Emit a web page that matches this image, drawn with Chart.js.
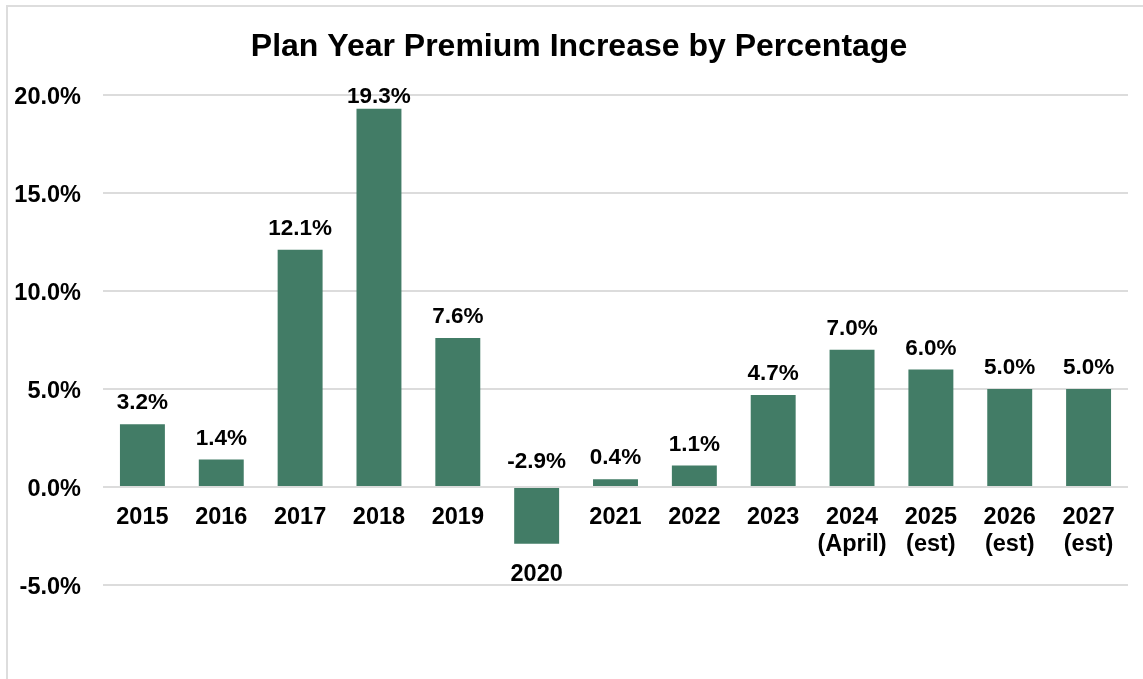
<!DOCTYPE html>
<html>
<head>
<meta charset="utf-8">
<script src="https://cdn.jsdelivr.net/npm/chart.js@4.4.1/dist/chart.umd.min.js"></script>
<style>
  html, body { margin: 0; padding: 0; background: #ffffff; overflow: hidden; }
  #wrap { position: relative; width: 1143px; height: 679px; }
  #frame { position: absolute; left: 6px; top: 5px; width: 1160px; height: 700px; border: 2px solid #dddddd; box-sizing: border-box; pointer-events: none; }
  canvas { position: absolute; left: 0; top: 0; }
</style>
</head>
<body>
<div id="wrap">
  <canvas id="c" width="1143" height="679"></canvas>
  <div id="frame"></div>
</div>
<script>
const chartTitle = 'Plan Year Premium Increase by Percentage';
const categories = [
  ['2015'], ['2016'], ['2017'], ['2018'], ['2019'], ['2020'], ['2021'], ['2022'], ['2023'],
  ['2024', '(April)'], ['2025', '(est)'], ['2026', '(est)'], ['2027', '(est)']
];
const premiumIncrease = [3.2, 1.4, 12.1, 19.3, 7.6, -2.9, 0.4, 1.1, 4.7, 7.0, 6.0, 5.0, 5.0];
const yTicks = [-5, 0, 5, 10, 15, 20];

const FONT = '"Liberation Sans", Arial, sans-serif';

const labelPlugin = {
  id: 'barLabels',
  afterDatasetsDraw(chart) {
    const ctx = chart.ctx;
    const meta = chart.getDatasetMeta(0);
    const yScale = chart.scales.y;
    const zero = yScale.getPixelForValue(0);
    ctx.save();
    ctx.fillStyle = '#000000';
    ctx.textAlign = 'center';
    ctx.textBaseline = 'middle';
    // title (centred over the chart frame)
    ctx.font = 'bold 32px ' + FONT;
    ctx.fillText(chartTitle, 579, 47);
    meta.data.forEach((el, i) => {
      const v = premiumIncrease[i];
      // value label
      ctx.font = 'bold 22.5px ' + FONT;
      let vy;
      if (v >= 0) {
        vy = Math.max(el.y - 21, chart.chartArea.top + 2);
      } else {
        vy = zero - 25;
      }
      ctx.fillText(v.toFixed(1) + '%', el.x, vy);
      // category label
      ctx.font = 'bold 23.5px ' + FONT;
      const base = Math.max(zero, el.y);
      const lines = chart.data.labels[i];
      lines.forEach((ln, k) => {
        ctx.fillText(ln, el.x, base + 31 + k * 27);
      });
    });
    ctx.restore();
  }
};

new Chart(document.getElementById('c'), {
  type: 'bar',
  data: {
    labels: categories,
    datasets: [{
      data: premiumIncrease,
      backgroundColor: '#427C66',
      borderWidth: 0,
      barPercentage: 0.57,
      categoryPercentage: 1.0
    }]
  },
  options: {
    responsive: false,
    animation: false,
    devicePixelRatio: 1,
    layout: { padding: { left: 14, right: 15, top: 95, bottom: 94 } },
    plugins: {
      legend: { display: false },
      tooltip: { enabled: false },
      title: { display: false }
    },
    scales: {
      x: { display: false },
      y: {
        min: yTicks[0],
        max: yTicks[yTicks.length - 1],
        afterBuildTicks(scale) { scale.ticks = yTicks.map(v => ({ value: v })); },
        afterFit(scale) { scale.width = 89; },
        ticks: {
          color: '#000000',
          font: { family: FONT, size: 23.5, weight: 'bold' },
          padding: 22,
          labelOffset: 3,
          callback: v => Number(v).toFixed(1) + '%'
        },
        grid: { color: '#dcdcdc', lineWidth: 2, drawTicks: false },
        border: { display: false }
      }
    }
  },
  plugins: [labelPlugin]
});
</script>
</body>
</html>
